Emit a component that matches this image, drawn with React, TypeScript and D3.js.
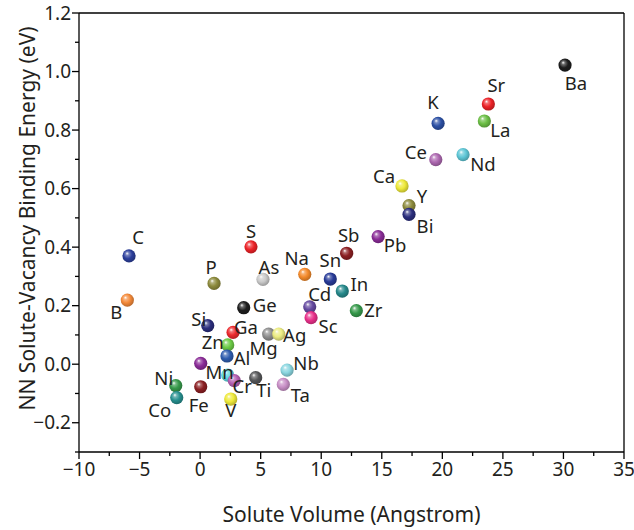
import React, { useEffect } from "react";
import * as d3 from "d3";

// solute data: element, solute volume (Å^3), NN binding energy (eV), ball colour
const elements = ["Ba", "Sr", "K", "La", "Ce", "Nd", "Ca", "Y", "Bi", "Pb", "Sb", "S", "C", "Na", "Sn", "As", "P", "In", "B", "Ge", "Cd", "Zr", "Sc", "Si", "Ga", "Mg", "Ag", "Zn", "Al", "Mn", "Nb", "Cu", "Cr", "Ti", "Ta", "Ni", "Fe", "Co", "V"];
const volumes = [30.13, 23.8, 19.65, 23.47, 19.46, 21.71, 16.67, 17.25, 17.25, 14.7, 12.1, 4.2, -5.87, 8.64, 10.75, 5.19, 1.15, 11.74, -6.01, 3.6, 9.05, 12.9, 9.16, 0.63, 2.72, 5.66, 6.49, 2.28, 2.22, 0.05, 7.18, 2.28, 2.82, 4.59, 6.87, -2.01, 0.05, -1.93, 2.53];
const energies = [1.022, 0.889, 0.823, 0.831, 0.699, 0.716, 0.609, 0.542, 0.512, 0.436, 0.379, 0.401, 0.37, 0.307, 0.291, 0.29, 0.276, 0.25, 0.219, 0.193, 0.196, 0.183, 0.159, 0.132, 0.109, 0.103, 0.103, 0.066, 0.028, 0.003, -0.02, -0.037, -0.056, -0.046, -0.069, -0.073, -0.077, -0.114, -0.119];
const colors = ["#1e1e1e", "#ec2227", "#2c50a4", "#6cbf45", "#ad67b0", "#5ec6d6", "#eee93a", "#8c8a3c", "#2b2e7d", "#8a2c97", "#8b1f22", "#ec2227", "#2c3f9c", "#f48a2a", "#283b98", "#c9c9c9", "#8c8a3c", "#26898b", "#f48a3a", "#1e1e1e", "#6449a0", "#36994a", "#e8308a", "#2b2e7d", "#ec2a2e", "#8e8e8e", "#ecec82", "#6ccb45", "#2e5cae", "#8a2c97", "#8ad6e0", "#5fd8e2", "#b35fb2", "#555658", "#c88fc6", "#36994a", "#8b1f22", "#26908f", "#eee93a"];
const labelDx = [11, 8, -5, 16, -20, 20, -18, 13, 16, 17, 2, 0, 9, -8, 0, 6, -3, 17, -11, 21, 10, 17, 17, -9, 13, -5, 16, -15, 15, 19, 19, 0, 8, 8, 17, -12, -2, -17, 0];
const labelDy = [18, -18, -21, 10, -7, 10, -9, -9, 12, 9, -18, -15, -18, -16, -19, -12, -16, -7, 12, -2, -12, 0, 9, -6, -5, 14, 1, -2, 3, 9, -7, 0, 6, 13, 11, -7, 19, 13, 11];

const xTicks = [-10, -5, 0, 5, 10, 15, 20, 25, 30, 35];
const yTicks = [-0.2, 0.0, 0.2, 0.4, 0.6, 0.8, 1.0, 1.2];

const W = 634;
const H = 530;
const m = { left: 79, right: 10, top: 13, bottom: 78 };
const FONT = "'Noto Sans', sans-serif";
const INK = "#231f20";

export default function App() {
  useEffect(() => {
    document.body.style.margin = "0";
  }, []);

  const x = d3.scaleLinear().domain([-10, 35]).range([m.left, W - m.right]);
  const y = d3.scaleLinear().domain([-0.3, 1.2]).range([H - m.bottom, m.top]);
  const x0 = x.range()[0], x1 = x.range()[1];
  const yb = y.range()[0], yt = y.range()[1];

  const xMinor = d3.range(-10, 35.01, 2.5);
  const yMinor = d3.range(-0.3, 1.201, 0.1);

  return (
    <svg width={W} height={H} style={{ display: "block", background: "#fff" }}>
      <defs>
        {colors.map((c, i) => {
          const base = d3.color(c)!;
          return (
            <radialGradient key={i} id={`ball${i}`} cx="45%" cy="45%" r="60%" fx="35%" fy="30%">
              <stop offset="0%" stopColor="#ffffff" />
              <stop offset="22%" stopColor={d3.interpolateRgb(c, "#fff")(0.35)} />
              <stop offset="55%" stopColor={c} />
              <stop offset="100%" stopColor={base.darker(0.9).toString()} />
            </radialGradient>
          );
        })}
      </defs>

      {/* frame */}
      <g stroke="#000" strokeWidth={1.3} fill="none">
        <line x1={x0} x2={x1} y1={yt} y2={yt} />
        <line x1={x1} x2={x1} y1={yt} y2={yb} />
        <line x1={x0} x2={x0} y1={yt} y2={yb} />
        <line x1={x0} x2={x1} y1={yb} y2={yb} />
        {xMinor.map((v, i) => (
          <line key={"xm" + i} x1={x(v)} x2={x(v)} y1={yb} y2={yb + (i % 2 === 0 ? 7 : 4)} />
        ))}
        {yMinor.map((v, i) => (
          <line key={"ym" + i} x1={x0} x2={x0 - (i % 2 === 1 ? 7 : 4)} y1={y(v)} y2={y(v)} />
        ))}
      </g>

      {/* tick labels */}
      <g fill={INK} fontFamily={FONT} fontSize={19}>
        {xTicks.map((v) => (
          <text key={"xt" + v} x={x(v)} y={yb + 24} textAnchor="middle">
            {v < 0 ? "\u2212" + Math.abs(v) : v}
          </text>
        ))}
        {yTicks.map((v) => (
          <text key={"yt" + v} x={x0 - 8} y={y(v)} dy="0.35em" textAnchor="end">
            {(v < 0 ? "\u2212" : "") + Math.abs(v).toFixed(1)}
          </text>
        ))}
      </g>

      {/* axis titles */}
      <text x={(x0 + x1) / 2} y={522} textAnchor="middle" fontFamily={FONT} fontSize={21} fill={INK}>
        Solute Volume (Angstrom)
      </text>
      <text
        transform={`translate(35,${(yt + yb) / 2 - 14}) rotate(-90)`}
        textAnchor="middle"
        fontFamily={FONT}
        fontSize={21}
        fill={INK}
      >
        NN Solute-Vacancy Binding Energy (eV)
      </text>

      {/* balls */}
      <g>
        {elements.map((el, i) => (
          <circle key={el} cx={x(volumes[i])} cy={y(energies[i])} r={6.6} fill={`url(#ball${i})`} />
        ))}
      </g>

      {/* labels */}
      <g fill={INK} fontFamily={FONT} fontSize={18.5}>
        {elements.map((el, i) =>
          el === "Cu" ? null : (
            <text
              key={"l" + el}
              x={x(volumes[i]) + labelDx[i]}
              y={y(energies[i]) + labelDy[i]}
              dy="0.35em"
              textAnchor="middle"
            >
              {el}
            </text>
          )
        )}
      </g>
    </svg>
  );
}
